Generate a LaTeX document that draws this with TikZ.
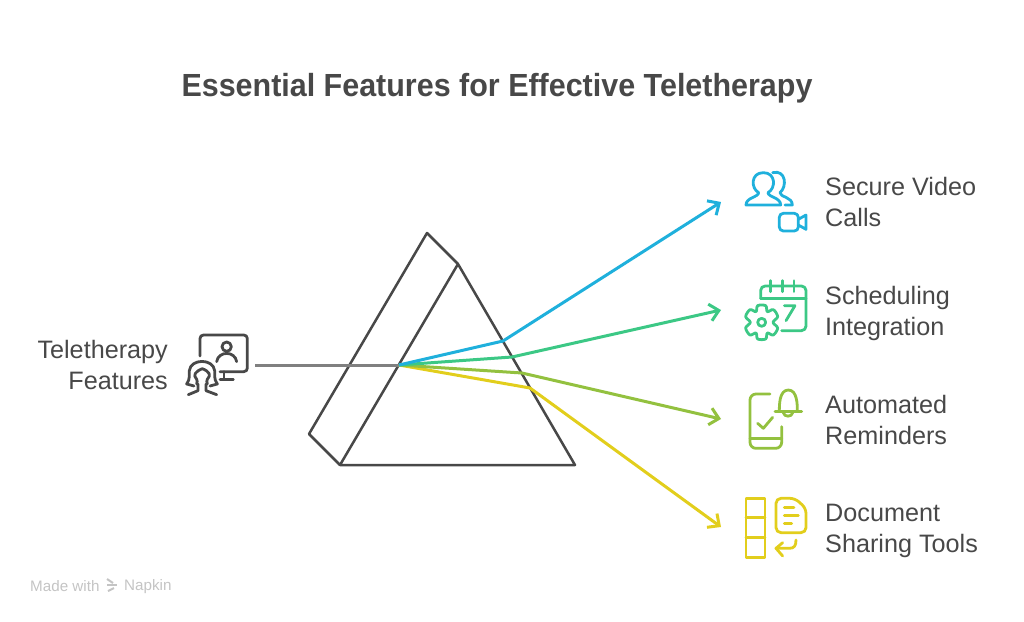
\documentclass[tikz,border=0pt]{standalone}
\usepackage{fontspec}
\setmainfont{Liberation Sans}
\newfontfamily\titlefont[FakeStretch=0.952]{Liberation Sans}
\usetikzlibrary{arrows.meta}
\definecolor{inkgrey}{HTML}{484848}
\definecolor{raygrey}{HTML}{808080}
\definecolor{videoblue}{HTML}{1FB0DC}
\definecolor{calgreen}{HTML}{3CC885}
\definecolor{bellolive}{HTML}{93C13F}
\definecolor{docyellow}{HTML}{E2CE1C}
\definecolor{markgrey}{HTML}{C4C4C4}
\tikzset{
 label/.style={text=inkgrey,font=\fontsize{25.2}{31}\selectfont,inner sep=0pt},
 ray/.style={line width=3pt,line join=round,-{Straight Barb[length=9pt,width=17pt,line width=3pt]}},
 glyph/.style={line width=2.8pt,line cap=round,line join=round},
}
\begin{document}
\begin{tikzpicture}[x=1pt,y=-1pt]
 \useasboundingbox (0,0) rectangle (1024,621);
 \node[text=inkgrey,font=\titlefont\fontsize{32}{38}\selectfont\bfseries,inner sep=0pt] (title) at (497,88) {Essential Features for Effective Teletherapy};
 \node[label,align=right,anchor=east] (source) at (168,365) {Teletherapy\\Features};
 \node[label,align=left,anchor=west] (video) at (825,202) {Secure Video\\Calls};
 \node[label,align=left,anchor=west] (sched) at (825,313) {Scheduling\\Integration};
 \node[label,align=left,anchor=west] (remind) at (825,420) {Automated\\Reminders};
 \node[label,align=left,anchor=west] (share) at (825,531) {Document\\Sharing Tools};
 \node[text=markgrey,font=\fontsize{15.2}{17}\selectfont,inner sep=0pt,anchor=west] (made) at (30,586) {Made with};
 \node[text=markgrey,font=\fontsize{15.2}{17}\selectfont,inner sep=0pt,anchor=west] (napkin) at (124,587) {Napkin};
 \draw[markgrey,line width=2pt] (107,579) -- (113,583);
 \draw[markgrey,line width=2pt] (107,585) -- (117,585);
 \draw[markgrey,line width=2pt] (108,591) -- (114,588);
 % prism
 \coordinate (apex) at (458,264);
 \coordinate (left) at (340,465);
 \coordinate (right) at (575,465);
 \coordinate (backtop) at (427,233);
 \coordinate (backleft) at (309,434);
 \draw[inkgrey,line width=2.5pt,line join=round] (apex) -- (left) -- (right) -- cycle;
 \draw[inkgrey,line width=2.5pt,line join=round] (apex) -- (backtop) -- (backleft) -- (left);
 % rays
 \coordinate (feed) at (255,365);
 \coordinate (hit) at (399,365);
 \draw[raygrey,line width=3pt] (feed) -- (hit);
 \coordinate (videoend) at (721,202);
 \coordinate (schedend) at (721,310);
 \coordinate (remindend) at (721,419);
 \coordinate (shareend) at (721,527);
 \draw[ray,docyellow] (hit) -- (530,388) -- (shareend);
 \draw[ray,bellolive] (hit) -- (522,373) -- (remindend);
 \draw[ray,calgreen] (hit) -- (512,357) -- (schedend);
 \draw[ray,videoblue] (hit) -- (503,341) -- (videoend);
 % source icon
 \begin{scope}[inkgrey,glyph,shift={(170,320)},x=0.3333pt,y=-0.3333pt]
  \draw[rounded corners=3.5pt] (90,108) -- (90,45) -- (232,45) -- (232,155) -- (150,155);
  \draw (162,155) -- (162,178);
  \draw (150,178) -- (190,178);
  \draw (170,80) circle[radius=14];
  \draw (140,125) .. controls (145,92) and (195,92) .. (200,125);
  \draw (72,198) -- (50,192) .. controls (62,175) and (56,165) .. (58,152) .. controls (62,115) and (130,115) .. (134,152) .. controls (136,165) and (130,175) .. (142,192) -- (120,198);
  \draw (80,192) .. controls (82,185) and (82,182) .. (80,178) .. controls (68,165) and (75,155) .. (97,146) .. controls (119,155) and (124,165) .. (112,178) .. controls (110,182) and (110,185) .. (112,192);
  \draw (55,224) -- (84,212) -- (84,192);
  \draw (140,224) -- (108,212) -- (108,192);
 \end{scope}
 % video icon
 \begin{scope}[videoblue,glyph,shift={(730,160)},x=0.3333pt,y=-0.3333pt]
  \draw (48,135) .. controls (48,112) and (85,112) .. (86,98) .. controls (62,85) and (62,38) .. (100,38) .. controls (138,38) and (138,85) .. (114,98) .. controls (115,112) and (152,112) .. (152,135) -- cycle;
  \draw (128,38) .. controls (168,28) and (172,80) .. (150,98) .. controls (150,112) and (187,110) .. (187,135) -- (165,135);
  \draw[rounded corners=4pt] (148,160) rectangle (205,213);
  \draw (205,178) -- (228,165) -- (228,208) -- (205,195);
 \end{scope}
 % calendar icon
 \begin{scope}[calgreen,glyph,shift={(730,160)},x=0.3333pt,y=-0.3333pt]
  \draw[rounded corners=4.5pt] (92,415) -- (92,378) -- (228,378) -- (228,512) -- (155,512);
  \draw (92,415) -- (228,415);
  \foreach \x in {122,157,192} \draw (\x,362) -- (\x,395);
  \draw (163,437) -- (195,437) -- (168,482);
  \draw (95,487) circle[radius=12];
  \draw plot[smooth cycle,tension=0.55] coordinates {(83,437) (107,437) (112,455) (130,449) (143,470) (129,487) (143,504) (130,525) (112,519) (107,537) (83,537) (78,519) (60,525) (47,504) (61,487) (47,470) (60,449) (78,455)};
 \end{scope}
 % reminder icon
 \begin{scope}[bellolive,glyph,shift={(730,380)},x=0.3333pt,y=-0.3333pt]
  \draw[rounded corners=6pt] (120,42) -- (60,42) -- (60,205) -- (155,205) -- (155,140);
  \draw (60,175) -- (155,175);
  \draw (83,130) -- (100,145) -- (128,112);
  \draw (135,95) -- (215,95);
  \draw (148,92) .. controls (148,75) and (148,30) .. (175,30) .. controls (202,30) and (202,75) .. (202,92);
  \draw (160,98) .. controls (162,112) and (186,112) .. (188,98);
 \end{scope}
 % sharing icon
 \begin{scope}[docyellow,glyph,shift={(730,380)},x=0.3333pt,y=-0.3333pt]
  \draw (48,355) rectangle (105,532);
  \draw (48,413) -- (105,413);
  \draw (48,472) -- (105,472);
  \draw[rounded corners=5pt] (195,355) -- (138,355) -- (138,458) -- (228,458) -- (228,385) -- cycle;
  \draw (163,382) -- (192,382);
  \draw (163,407) -- (205,407);
  \draw (163,430) -- (185,430);
  \draw (198,480) .. controls (198,498) and (192,505) .. (178,505) -- (138,505);
  \draw (158,488) -- (138,505) -- (158,528);
 \end{scope}
\end{tikzpicture}
\end{document}
